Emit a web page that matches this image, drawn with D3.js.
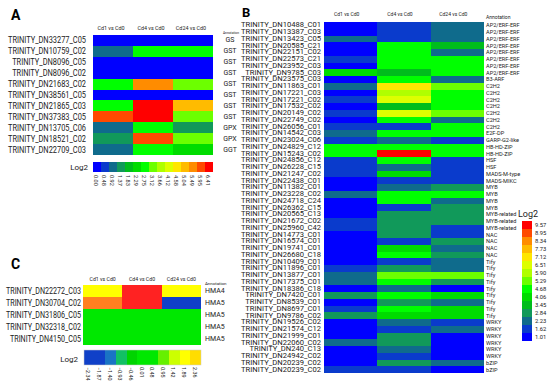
<!DOCTYPE html>
<html><head><meta charset="utf-8">
<script src="https://cdn.jsdelivr.net/npm/d3@7"></script>
<style>
body{margin:0;background:#fff}
svg{display:block}
text{font-family:Roboto,"Liberation Sans",sans-serif;fill:#222}
</style>
</head><body>
<svg id="chart" width="550" height="388"></svg>
<script>
// ---------- shared ----------
const comparisons = ["Cd1 vs Cd0", "Cd4 vs Cd0", "Cd24 vs Cd0"];
const palette = ["#0000ff","#0a3bcc","#0f6b8c","#11995a","#00bd1c","#00dc00","#00ff00","#6cff00","#b0ff00","#ddff00","#ffe600","#ffbb00","#ff8c00","#ff4a00","#ff0000"];

// ---------- panel A ----------
const aGenes = ["TRINITY_DN33277_C05","TRINITY_DN10759_C02","TRINITY_DN8096_C05","TRINITY_DN8096_C02","TRINITY_DN21683_C02","TRINITY_DN38561_C05","TRINITY_DN21865_C03","TRINITY_DN37383_C05","TRINITY_DN13705_C06","TRINITY_DN18521_C02","TRINITY_DN22709_C03"];
const aAnnot = ["GS","GST","GST","GST","GST","GST","GST","GST","GPX","GPX","GGT"];
const aCd1  = [0.2,1.1,0.2,0.2,2.9,0.2,2.9,6.2,1.1,1.6,1.1];
const aCd4  = [0.2,2.9,0.2,0.2,5.7,0.2,6.41,6.41,2.9,6.2,2.9];
const aCd24 = [0.2,2.9,0.2,0.2,3.4,0.2,5.2,3.4,1.6,3.4,2.5];
const aTicks = [0.00,0.48,0.92,1.37,1.83,2.29,2.75,3.12,3.66,4.12,4.58,5.04,5.49,5.95,6.41];

// ---------- panel B ----------
const bGenes = ["TRINITY_DN10488_C01","TRINITY_DN13387_C03","TRINITY_DN13423_C05","TRINITY_DN20585_C21","TRINITY_DN22151_C02","TRINITY_DN22573_C21","TRINITY_DN23952_C03","TRINITY_DN9785_C03","TRINITY_DN23575_C03","TRINITY_DN11863_C01","TRINITY_DN17221_C03","TRINITY_DN17221_C02","TRINITY_DN17532_C02","TRINITY_DN20149_C02","TRINITY_DN22749_C02","TRINITY_DN26056_C01","TRINITY_DN14542_C03","TRINITY_DN23024_C06","TRINITY_DN24829_C12","TRINITY_DN15243_C02","TRINITY_DN24856_C12","TRINITY_DN26228_C15","TRINITY_DN21247_C02","TRINITY_DN22438_C01","TRINITY_DN11382_C01","TRINITY_DN23228_C02","TRINITY_DN24718_C24","TRINITY_DN26362_C15","TRINITY_DN20565_C13","TRINITY_DN21672_C02","TRINITY_DN25960_C42","TRINITY_DN14773_C01","TRINITY_DN16574_C01","TRINITY_DN19741_C01","TRINITY_DN26680_C18","TRINITY_DN10409_C01","TRINITY_DN11896_C01","TRINITY_DN13877_C01","TRINITY_DN17375_C01","TRINITY_DN18386_C18","TRINITY_DN7420_C01","TRINITY_DN8539_C01","TRINITY_DN8697_C01","TRINITY_DN9786_C02","TRINITY_DN19526_C02","TRINITY_DN21574_C12","TRINITY_DN21999_C01","TRINITY_DN22060_C02","TRINITY_DN240_C13","TRINITY_DN24942_C02","TRINITY_DN20239_C02","TRINITY_DN20239_C02"];
const bAnnot = ["AP2/ERF-ERF","AP2/ERF-ERF","AP2/ERF-ERF","AP2/ERF-ERF","AP2/ERF-ERF","AP2/ERF-ERF","AP2/ERF-ERF","AP2/ERF-ERF","B3-ARF","C2H2","C2H2","C2H2","C2H2","C2H2","C2H2","C2H2","E2F-DP","GARP-G2-like","HB-HD-ZIP","HB-HD-ZIP","HSF","HSF","MADS-M-type","MADS-MIKC","MYB","MYB","MYB","MYB","MYB-related","MYB-related","MYB-related","NAC","NAC","NAC","NAC","Tify","Tify","Tify","Tify","Tify","Tify","Tify","Tify","Tify","WRKY","WRKY","WRKY","WRKY","WRKY","WRKY","bZIP","bZIP"];
const bCd1  = [1.3,1.3,2.5,1.3,1.3,1.9,1.3,4.3,1.3,2.5,1.3,1.9,1.3,1.9,1.3,1.9,2.5,1.9,4.9,4.9,1.9,1.9,1.9,1.3,1.3,2.5,1.3,1.3,1.3,1.9,1.9,1.3,1.3,1.3,1.3,1.3,1.9,2.5,2.5,1.3,3.1,1.3,1.9,3.1,1.3,1.3,1.3,2.5,1.3,1.3,1.3,1.9];
const bCd4  = [1.9,1.9,1.9,4.9,4.9,4.9,4.9,3.7,4.9,7.4,6.1,6.8,3.7,6.8,4.9,1.9,4.9,2.5,4.9,9.6,4.9,2.5,4.3,1.9,2.5,4.9,4.9,1.9,3.1,3.1,3.1,3.1,1.9,4.3,4.9,1.9,3.1,5.5,4.9,2.5,4.9,3.1,4.9,4.3,2.5,1.9,3.1,3.1,2.5,1.9,3.1,1.9];
const bCd24 = [2.5,2.5,2.5,3.7,2.5,4.9,4.9,4.9,2.5,5.5,4.9,4.9,4.9,5.5,2.5,4.9,4.9,1.9,4.9,4.9,1.9,1.9,1.9,1.9,3.1,4.9,2.5,3.1,3.1,3.1,1.9,1.9,3.1,2.5,3.1,2.5,2.5,5.5,3.1,1.3,4.3,2.5,4.3,4.3,1.9,2.5,1.3,1.3,1.3,1.3,2.5,1.3];
const bTicks = [1.01,1.62,2.23,2.84,3.45,4.06,4.68,5.29,5.90,6.51,7.12,7.73,8.34,8.95,9.57];

// ---------- panel C ----------
const cGenes = ["TRINITY_DN22272_C03","TRINITY_DN30704_C02","TRINITY_DN31806_C05","TRINITY_DN32318_C02","TRINITY_DN4150_C05"];
const cAnnot = ["HMA4","HMA5","HMA5","HMA5","HMA5"];
const cCd1  = [2.0,3.0,0.3,0.3,0.3];
const cCd4  = [3.8,3.8,0.3,0.3,0.3];
const cCd24 = [2.0,-2.2,0.3,0.3,0.3];
const cTicks = [-2.34,-1.87,-1.40,-0.93,-0.46,0.01,0.48,0.95,1.42,1.89,2.36];
const cExtraThresholds = [2.83,3.30];
const cPalette = ["#1040c8","#1040c8","#1a74c4","#12c064","#00d400","#00e800","#00e800","#66f000","#ccff00","#ffff00","#ffdd00","#ff8020","#ff2222"];

const svg = d3.select("#chart");
const fmt = d3.format(".2f");

function fitLabels(sel, refWidth) {
  const nodes = sel.nodes();
  const maxLen = d3.max(nodes, n => n.getComputedTextLength());
  const k = refWidth / maxLen;
  sel.each(function(){ const L = this.getComputedTextLength(); d3.select(this).attr("textLength", L*k).attr("lengthAdjust","spacingAndGlyphs"); });
}

function drawHeatmap(o) {
  const g = svg.append("g");
  const n = o.genes.length;
  const y = d3.scaleBand().domain(d3.range(n)).range([o.y0, o.y1]);
  const x = d3.scaleBand().domain(comparisons).range([o.x0, o.x1]);
  const cells = [];
  o.series.forEach((s, j) => s.forEach((v, i) => cells.push({i, c: comparisons[j], v})));
  g.selectAll("rect.cell").data(cells).join("rect")
    .attr("x", d => x(d.c)).attr("y", d => y(d.i))
    .attr("width", x.bandwidth() + 0.4).attr("height", y.bandwidth() + 0.4)
    .attr("fill", d => o.color(d.v)).attr("shape-rendering","crispEdges");
  const labels = g.selectAll("text.gene").data(o.genes).join("text")
    .attr("x", o.labelX).attr("y", (d,i) => y(i) + y.bandwidth()/2)
    .attr("text-anchor","end").attr("dominant-baseline","central")
    .style("font-size", o.labelSize + "px").text(d => d);
  fitLabels(labels, o.labelWidth);
  g.selectAll("text.ann").data(o.annot).join("text")
    .attr("x", o.annX).attr("y", (d,i) => y(i) + y.bandwidth()/2 + (o.annDy||0))
    .attr("text-anchor", o.annAnchor).attr("dominant-baseline","central")
    .style("font-size", o.annSize + "px").text(d => d);
  g.selectAll("text.col").data(comparisons).join("text")
    .attr("x", d => x(d) + x.bandwidth()/2 + (o.colDx||0)).attr("y", o.colY)
    .attr("text-anchor","middle").style("font-size", o.colSize + "px").text(d => d);
  g.append("text").attr("x", o.annHeadX).attr("y", o.annHeadY)
    .attr("text-anchor", o.annHeadAnchor).style("font-size", o.annHeadSize + "px").text("Annotation");
  g.append("text").attr("x", o.letterX).attr("y", o.letterY)
    .style("font-size", o.letterSize + "px").style("font-weight","bold").style("fill","#000").text(o.letter);
}

// Color scales
const aColor = d3.scaleThreshold().domain(aTicks.slice(1)).range(palette);
const bColor = d3.scaleThreshold().domain(bTicks.slice(1)).range(palette);
const cColor = d3.scaleThreshold().domain(cTicks.slice(1).concat(cExtraThresholds)).range(cPalette);

// Panel A
drawHeatmap({genes:aGenes, annot:aAnnot, series:[aCd1,aCd4,aCd24], x0:93, x1:213, y0:35, y1:155,
  color:aColor, labelX:86, labelSize:8.6, labelWidth:78, annX:230, annAnchor:"middle", annSize:7,
  colY:30, colSize:5.4, colDx:-2, annHeadX:231, annHeadY:33.5, annHeadAnchor:"middle", annHeadSize:3.3,
  letter:"A", letterX:11, letterY:20, letterSize:14});
// Panel B
drawHeatmap({genes:bGenes, annot:bAnnot, series:[bCd1,bCd4,bCd24], x0:324, x1:484, y0:22, y1:373,
  color:bColor, labelX:321, labelSize:6.5, labelWidth:80, annX:486, annAnchor:"start", annSize:5.6,
  colY:16, colSize:5, colDx:-4, annHeadX:486, annHeadY:18.5, annHeadAnchor:"start", annHeadSize:5,
  letter:"B", letterX:242, letterY:16.5, letterSize:13});
// Panel C
drawHeatmap({genes:cGenes, annot:cAnnot, series:[cCd1,cCd4,cCd24], x0:83, x1:201, y0:285, y1:345,
  color:cColor, labelX:81, labelSize:8.4, labelWidth:75, annX:205, annAnchor:"start", annSize:7,
  colY:281, colSize:5.2, colDx:0, annHeadX:205, annHeadY:285, annHeadAnchor:"start", annHeadSize:4.4,
  letter:"C", letterX:11, letterY:269, letterSize:14});

// Legend A (horizontal)
(function(){
  const g = svg.append("g");
  const x = d3.scaleBand().domain(aTicks).range([93, 213]);
  g.selectAll("rect").data(aTicks).join("rect")
    .attr("x", d => x(d)).attr("y", 162).attr("width", x.bandwidth()+0.4).attr("height", 10)
    .attr("fill", d => aColor(d)).attr("shape-rendering","crispEdges");
  g.selectAll("text.t").data(aTicks).join("text")
    .attr("transform", d => `translate(${x(d)+x.bandwidth()/2-1},175) rotate(90)`)
    .attr("dominant-baseline","central").style("font-size","5.6px").text(d => fmt(d));
  g.append("text").attr("x", 88).attr("y", 167).attr("text-anchor","end").attr("dominant-baseline","central")
    .style("font-size","8px").text("Log2");
})();

// Legend B (vertical)
(function(){
  const g = svg.append("g");
  const desc = bTicks.slice().reverse();
  const y = d3.scaleBand().domain(desc).range([221, 341]);
  g.selectAll("rect").data(desc).join("rect")
    .attr("x", 522).attr("y", d => y(d)).attr("width", 10).attr("height", y.bandwidth()+0.4)
    .attr("fill", d => bColor(d)).attr("shape-rendering","crispEdges");
  g.selectAll("text.t").data(desc).join("text")
    .attr("x", 535).attr("y", d => y(d) + y.bandwidth()/2).attr("dominant-baseline","central")
    .style("font-size","5.8px").text(d => fmt(d));
  g.append("text").attr("x", 518).attr("y", 214).attr("dominant-baseline","central")
    .style("font-size","9px").text("Log2");
})();

// Legend C (horizontal)
(function(){
  const g = svg.append("g");
  const x = d3.scaleBand().domain(cTicks).range([84, 201]);
  g.selectAll("rect").data(cTicks).join("rect")
    .attr("x", d => x(d)).attr("y", 350).attr("width", x.bandwidth()+0.4).attr("height", 15)
    .attr("fill", d => cColor(d)).attr("shape-rendering","crispEdges");
  g.append("rect").attr("x",84).attr("y",350).attr("width",117).attr("height",15)
    .attr("fill","none").attr("stroke","#ccc").attr("stroke-width",0.5);
  g.selectAll("text.t").data(cTicks).join("text")
    .attr("transform", d => `translate(${x(d)+x.bandwidth()/2-1},367) rotate(90)`)
    .attr("dominant-baseline","central").style("font-size","5.4px").text(d => fmt(d));
  g.append("text").attr("x", 78).attr("y", 359).attr("text-anchor","end").attr("dominant-baseline","central")
    .style("font-size","8px").text("Log2");
})();
</script>
</body></html>
